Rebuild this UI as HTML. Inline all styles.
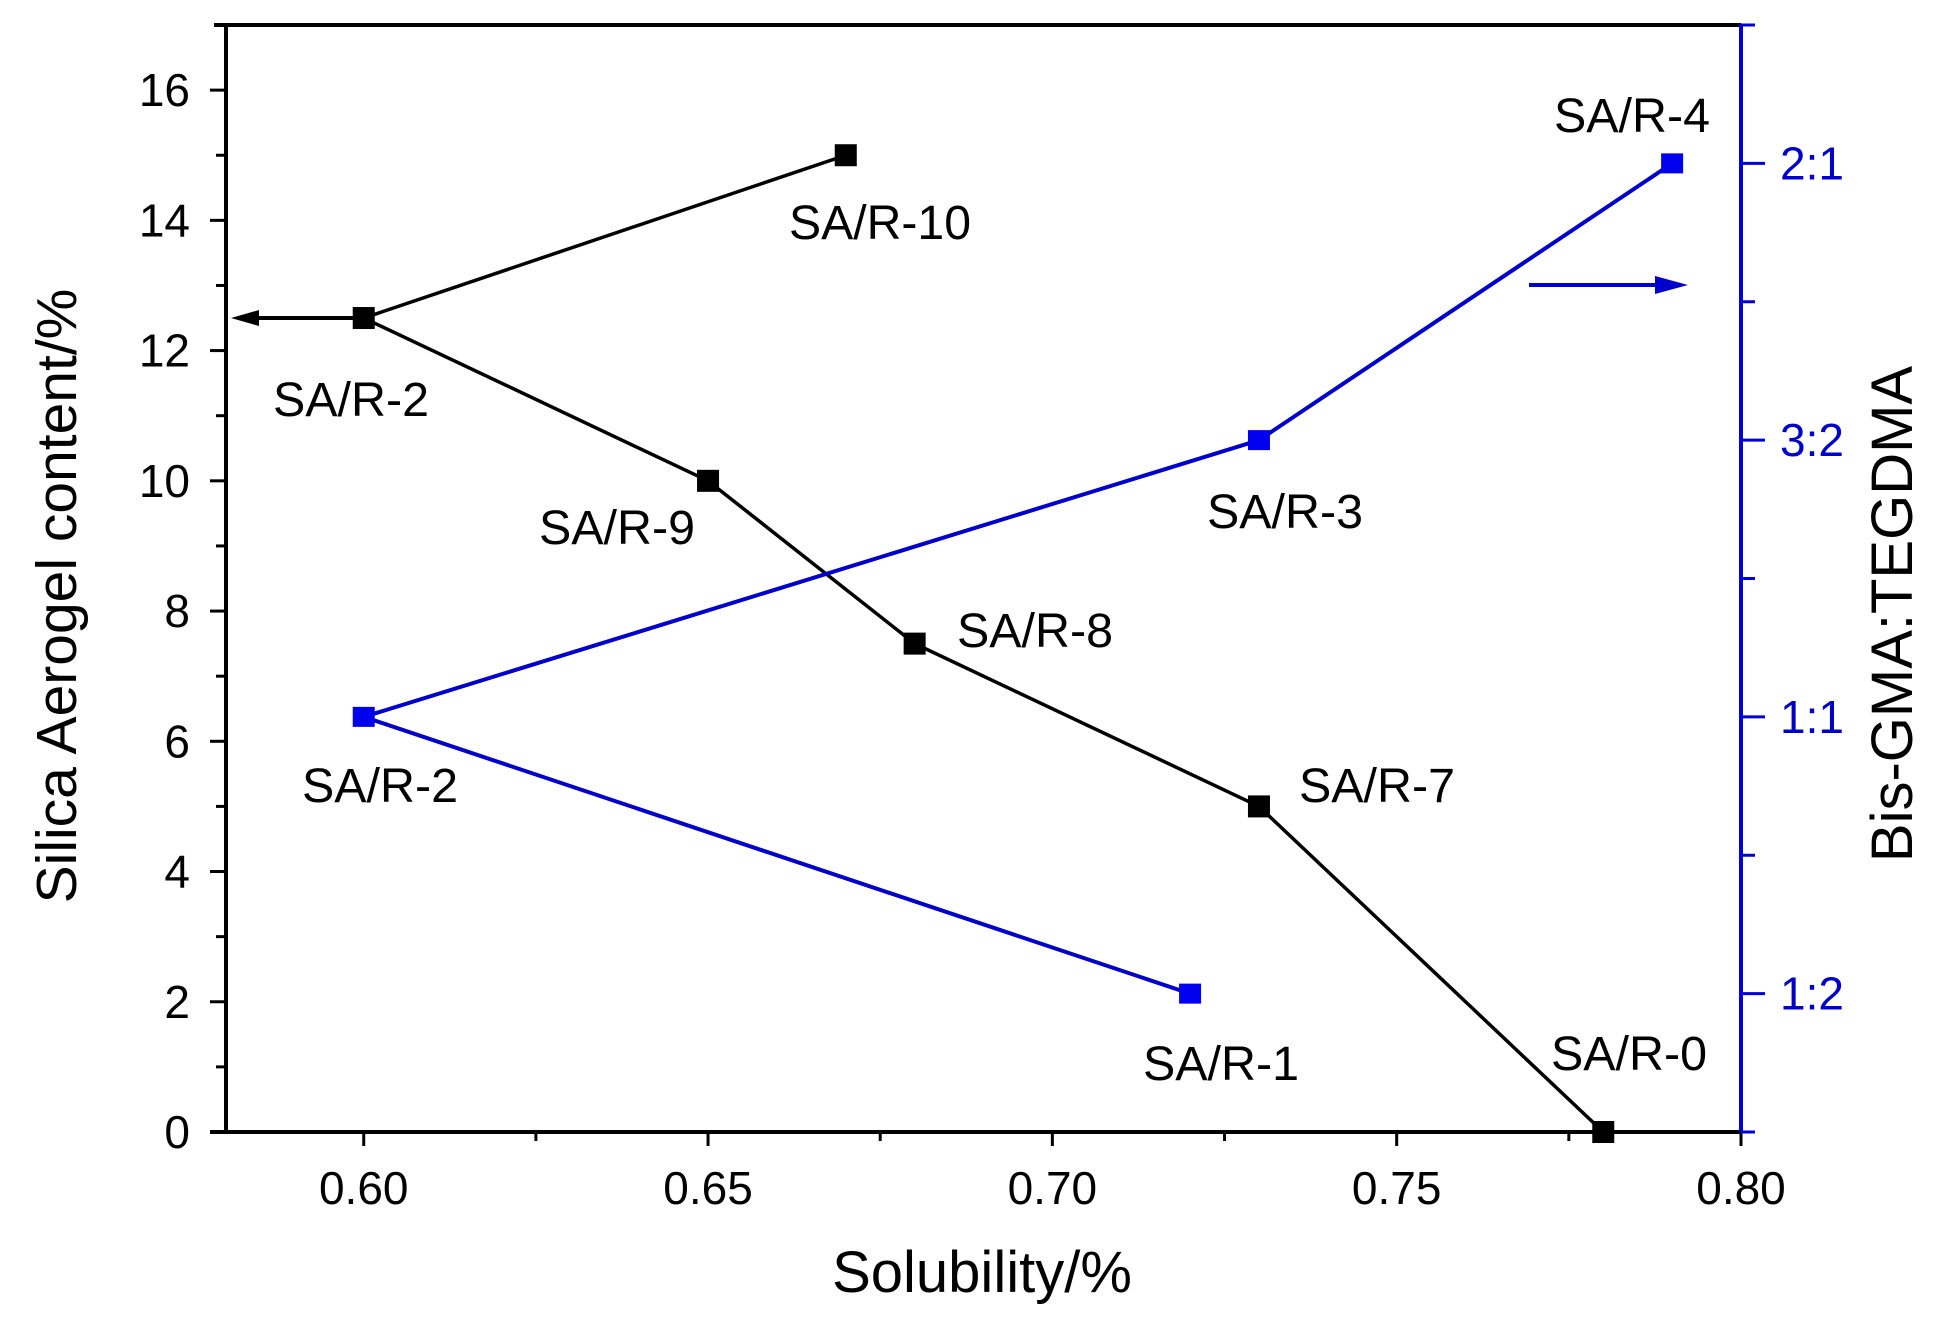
<!DOCTYPE html>
<html><head><meta charset="utf-8"><style>
html,body{margin:0;padding:0;background:#fff;}
svg{display:block;font-family:"Liberation Sans",Arial,sans-serif;}
</style></head><body>
<svg id="chart" width="1946" height="1328" viewBox="0 0 1946 1328" xmlns="http://www.w3.org/2000/svg">
<g id="axes"></g>
<g id="marks"></g>
<g id="labels"></g>
<text x="982" y="1292" font-size="58" text-anchor="middle">Solubility/%</text>
<text transform="translate(76,596) rotate(-90)" font-size="57" text-anchor="middle">Silica Aerogel content/%</text>
<text transform="translate(1912,614) rotate(-90)" font-size="58" text-anchor="middle">Bis-GMA:TEGDMA</text>
</svg>
<script>
const xTicks = [0.60, 0.65, 0.70, 0.75, 0.80];
const xTickLabels = ["0.60", "0.65", "0.70", "0.75", "0.80"];
const leftTicks = [0, 2, 4, 6, 8, 10, 12, 14, 16];
const rightTickPos = [1, 3, 5, 7];
const rightTickLabels = ["1:2", "1:1", "3:2", "2:1"];
const blackX = [0.67, 0.60, 0.65, 0.68, 0.73, 0.78];
const blackY = [15, 12.5, 10, 7.5, 5, 0];
const blackNames = ["SA/R-10", "SA/R-2", "SA/R-9", "SA/R-8", "SA/R-7", "SA/R-0"];
const blueX = [0.72, 0.60, 0.73, 0.79];
const blueY = [1, 3, 5, 7];
const blueNames = ["SA/R-1", "SA/R-2", "SA/R-3", "SA/R-4"];

const L = 226, R = 1741, T = 25, B = 1132;
const xMin = 0.58, xMax = 0.80, yMax = 17, ryMax = 8;
const NS = "http://www.w3.org/2000/svg";
const sx = v => L + (v - xMin) / (xMax - xMin) * (R - L);
const sy = v => B - v / yMax * (B - T);
const sry = v => B - v / ryMax * (B - T);
function mk(tag, attrs, parent) {
  const e = document.createElementNS(NS, tag);
  for (const k in attrs) e.setAttribute(k, attrs[k]);
  parent.appendChild(e);
  return e;
}
const axes = document.getElementById('axes'), marks = document.getElementById('marks'), labels = document.getElementById('labels');

let e;
e = mk('line', {x1: L - 12, y1: T, x2: R, y2: T, stroke: '#000', 'stroke-width': 4}, axes);
 
e = mk('line', {x1: L, y1: T, x2: L, y2: B + 2, stroke: '#000', 'stroke-width': 4}, axes);
 
e = mk('line', {x1: L - 16, y1: B, x2: R, y2: B, stroke: '#000', 'stroke-width': 4}, axes);
 
e = mk('line', {x1: R, y1: T, x2: R, y2: B, stroke: '#0000dd', 'stroke-width': 4}, axes);
 

xTicks.forEach((v, i) => {
  const x = sx(v);
  e = mk('line', {x1: x, y1: B, x2: x, y2: B + 14, stroke: '#000', 'stroke-width': 3}, axes);
   
  e = mk('text', {x: x, y: B + 72, 'font-size': 46, 'text-anchor': 'middle'}, axes);
  e.textContent = xTickLabels[i];
   
  if (i < xTicks.length - 1) {
    const xm = sx(v + 0.025);
    e = mk('line', {x1: xm, y1: B, x2: xm, y2: B + 9, stroke: '#000', 'stroke-width': 3}, axes);
     
  }
});
for (let v = 0; v <= 17; v++) {
  const y = sy(v);
  const major = v % 2 === 0;
  e = mk('line', {x1: L - (major ? 16 : 10), y1: y, x2: L, y2: y, stroke: '#000', 'stroke-width': 3}, axes);
   
}
leftTicks.forEach(v => {
  e = mk('text', {x: 190, y: sy(v) + 16, 'font-size': 46, 'text-anchor': 'end'}, axes);
  e.textContent = String(v);
   
});
for (let v = 0; v <= 8; v++) {
  const y = sry(v);
  const major = v % 2 === 1;
  e = mk('line', {x1: R, y1: y, x2: R + (major ? 24 : 14), y2: y, stroke: '#0000dd', 'stroke-width': 3}, axes);
   
}
rightTickPos.forEach((v, i) => {
  e = mk('text', {x: 1780, y: sry(v) + 16, 'font-size': 46, fill: '#0000cc'}, axes);
  e.textContent = rightTickLabels[i];
   
});

e = mk('polyline', {points: blackX.map((x, i) => sx(x) + ',' + sy(blackY[i])).join(' '), fill: 'none', stroke: '#000', 'stroke-width': 3.5}, marks);
 
blackX.forEach((x, i) => {
  e = mk('rect', {x: sx(x) - 11, y: sy(blackY[i]) - 11, width: 22, height: 22, fill: '#000'}, marks);
   
});
e = mk('polyline', {points: blueX.map((x, i) => sx(x) + ',' + sry(blueY[i])).join(' '), fill: 'none', stroke: '#0000cc', 'stroke-width': 4}, marks);
 
blueX.forEach((x, i) => {
  e = mk('rect', {x: sx(x) - 11, y: sry(blueY[i]) - 10, width: 22, height: 20, fill: '#0000ee'}, marks);
   
});

const ay = sy(blackY[1]);
e = mk('line', {x1: sx(blackX[1]), y1: ay, x2: 250, y2: ay, stroke: '#000', 'stroke-width': 4}, marks);
 
e = mk('polygon', {points: `${L + 5},${ay} ${L + 33},${ay - 8} ${L + 33},${ay + 8}`, fill: '#000'}, marks);
 
e = mk('line', {x1: 1529, y1: 285, x2: 1665, y2: 285, stroke: '#0000cc', 'stroke-width': 4}, marks);
 
e = mk('polygon', {points: '1688,285 1655,276 1655,294', fill: '#0000cc'}, marks);
 

const labelPos = [[789, 239], [273, 416], [539, 544], [957, 647], [1299, 802], [1551, 1070], [1143, 1080], [302, 802], [1207, 528], [1554, 132]];
const allNames = blackNames.concat(blueNames);
allNames.forEach((n, i) => {
  e = mk('text', {x: labelPos[i][0], y: labelPos[i][1], 'font-size': 48, textLength: n.length * 26, lengthAdjust: 'spacingAndGlyphs'}, labels);
  e.textContent = n;
   
});
</script>
</body></html>
